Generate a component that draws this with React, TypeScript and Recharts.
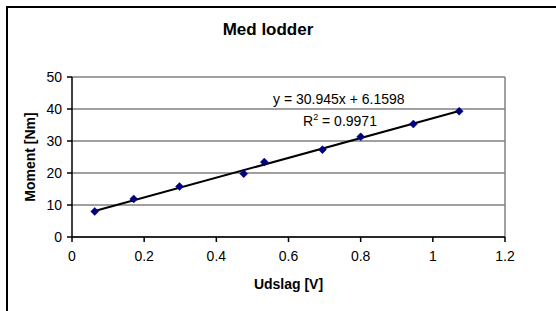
import {
  ScatterChart,
  Scatter,
  XAxis,
  YAxis,
  CartesianGrid,
  ReferenceLine
} from "recharts";

const udslag = [0.063, 0.171, 0.298, 0.476, 0.533, 0.694, 0.8, 0.946, 1.073];
const moment = [8.0, 11.9, 15.8, 19.8, 23.4, 27.3, 31.3, 35.3, 39.3];
const xTicks = [0, 0.2, 0.4, 0.6, 0.8, 1, 1.2];
const yTicks = [0, 10, 20, 30, 40, 50];
const trendSlope = 30.945;
const trendIntercept = 6.1598;
const rSquared = "0.9971";

const FONT = "'Liberation Sans', Arial, sans-serif";

const points = udslag.map((x, i) => ({ x, y: moment[i] }));
const xFirst = udslag[0];
const xLast = udslag[udslag.length - 1];

function Diamond(props: any) {
  const { cx, cy } = props;
  const r = 4;
  return (
    <polygon
      points={`${cx},${cy - r} ${cx + r},${cy} ${cx},${cy + r} ${cx - r},${cy}`}
      fill="#000080"
      stroke="#000080"
      strokeWidth={0.5}
    />
  );
}

export default function App() {
  return (
    <div
      style={{
        position: "fixed",
        left: 0,
        top: 0,
        width: 556,
        height: 311,
        overflow: "hidden",
        background: "#fff",
        fontFamily: FONT
      }}
    >
      <div
        style={{
          position: "absolute",
          left: 6,
          top: 6,
          width: 700,
          height: 500,
          borderLeft: "2px solid #000",
          borderTop: "2px solid #000"
        }}
      />
      <div
        style={{
          position: "absolute",
          left: 168,
          width: 200,
          top: 20,
          textAlign: "center",
          fontWeight: "bold",
          fontSize: 17,
          lineHeight: "20px"
        }}
      >
        Med lodder
      </div>
      <div style={{ position: "absolute", left: 0, top: 0 }}>
        <ScatterChart
          width={556}
          height={311}
          margin={{ top: 77, right: 51, bottom: 44, left: 12 }}
          style={{ fontFamily: FONT }}
        >
          <CartesianGrid vertical={false} stroke="#808080" strokeWidth={1.5} />
          <XAxis
            type="number"
            dataKey="x"
            domain={[0, 1.2]}
            ticks={xTicks}
            height={30}
            stroke="#000"
            strokeWidth={1.5}
            tickSize={5}
            tickMargin={9}
            tick={{ fontSize: 14, fill: "#000" }}
            tickLine={{ stroke: "#000" }}
            label={{
              value: "Udslag [V]",
              position: "bottom",
              offset: 12,
              style: { fontSize: 14, fontWeight: "bold", fill: "#000" }
            }}
          />
          <YAxis
            type="number"
            dataKey="y"
            domain={[0, 50]}
            ticks={yTicks}
            width={60}
            stroke="#000"
            strokeWidth={1.5}
            tickSize={5}
            tickMargin={5}
            tick={{ fontSize: 14, fill: "#000" }}
            tickLine={{ stroke: "#000" }}
            label={{
              value: "Moment [Nm]",
              angle: -90,
              position: "insideLeft",
              offset: 18,
              style: { fontSize: 14, fontWeight: "bold", fill: "#000", textAnchor: "middle" }
            }}
          />
          <ReferenceLine x={1.2} stroke="#808080" strokeWidth={1.5} />
          <ReferenceLine
            segment={[
              { x: xFirst, y: trendSlope * xFirst + trendIntercept },
              { x: xLast, y: trendSlope * xLast + trendIntercept }
            ]}
            stroke="#000"
            strokeWidth={2}
          />
          <Scatter data={points} shape={<Diamond />} isAnimationActive={false} />
        </ScatterChart>
      </div>
      <div
        style={{
          position: "absolute",
          left: 273,
          top: 90,
          fontSize: 14,
          lineHeight: "18px",
          whiteSpace: "nowrap"
        }}
      >
        y = {trendSlope}x + {trendIntercept}
      </div>
      <div
        style={{
          position: "absolute",
          left: 303,
          top: 112,
          fontSize: 14,
          lineHeight: "18px",
          whiteSpace: "nowrap"
        }}
      >
        R<sup style={{ fontSize: 9, verticalAlign: "6px", lineHeight: 0 }}>2</sup> = {rSquared}
      </div>
    </div>
  );
}
